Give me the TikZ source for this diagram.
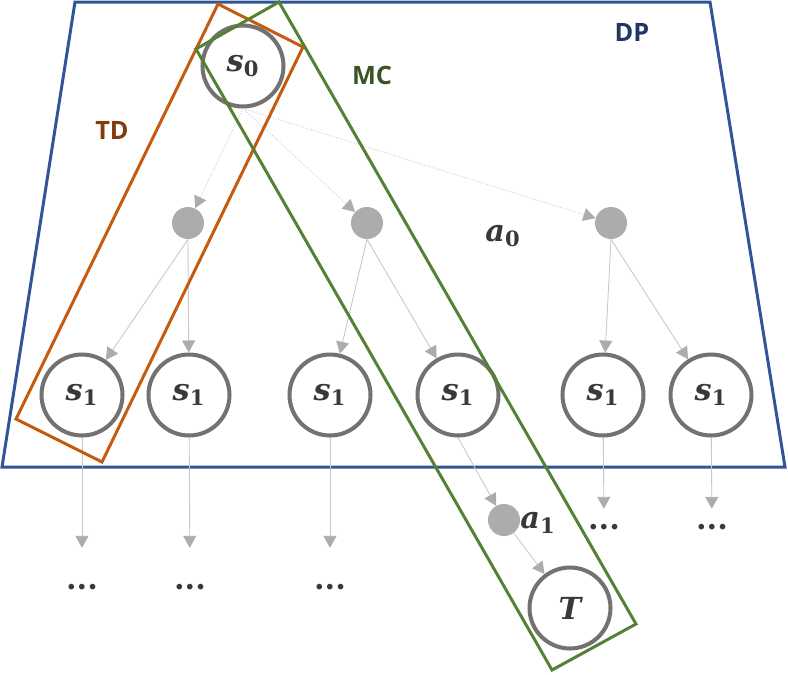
\documentclass[tikz,border=0pt]{standalone}
\usepackage{amsmath}
\usepackage{fontspec}
\newfontfamily\labelfont{Open Sans}
\newfontfamily\symfont{DejaVu Serif}
\usetikzlibrary{arrows.meta,positioning}
\definecolor{stateGray}{HTML}{767171}
\definecolor{actGray}{HTML}{AEABAB}
\definecolor{edgeGray}{HTML}{C8C8C8}
\definecolor{mathText}{HTML}{3B3838}
\definecolor{dpBlue}{HTML}{2F5597}
\definecolor{tdOrange}{HTML}{C55A11}
\definecolor{mcGreen}{HTML}{548235}
\definecolor{dpText}{HTML}{203864}
\definecolor{tdText}{HTML}{843C0C}
\definecolor{mcText}{HTML}{375623}
\newcommand{\stname}[2]{$\text{\symfont\bfseries\itshape #1}_{\text{\symfont\bfseries #2}}$}

\begin{document}
\begin{tikzpicture}[
  x=0.02cm,y=-0.02cm,
  state/.style={circle,draw=stateGray,line width=2.3pt,minimum size=1.62cm,
    inner sep=0pt,text=mathText,font=\LARGE},
  act/.style={circle,fill=actGray,minimum size=0.64cm,inner sep=0pt},
  flow/.style={-{Triangle[length=2.4mm,width=2.6mm,color=actGray]},
    draw=edgeGray,line width=0.5pt},
  more/.style={text=mathText,font=\symfont\bfseries\LARGE,inner sep=0pt},
  region/.style={line width=1.7pt,line join=miter},
  tag/.style={font=\labelfont\bfseries\Large}
]
  \useasboundingbox (0,0) rectangle (788,674);

  \draw[region,draw=dpBlue] (75,2) -- (710,2) -- (785,467) -- (2,467) -- cycle;
  \node[tag,text=dpText] (dp) at (632,32) {DP};
  \node[tag,text=tdText] (td) at (112,130) {TD};
  \node[tag,text=mcText] (mc) at (372,75) {MC};

  \node[state] (s0) at (243,66) {\stname{s}{0}};
  \node[act] (aL) at (188,223) {};
  \node[act] (aM) at (367,223) {};
  \node[act] (aR) at (611,223) {};
  \node[text=mathText,font=\LARGE] (a0) at (503,236) {\stname{a}{0}};

  \node[state] (s1a) at (82,395) {\stname{s}{1}};
  \node[state] (s1b) at (189,395) {\stname{s}{1}};
  \node[state] (s1c) at (330,395) {\stname{s}{1}};
  \node[state] (s1d) at (458,395) {\stname{s}{1}};
  \node[state] (s1e) at (603,395) {\stname{s}{1}};
  \node[state] (s1f) at (711,395) {\stname{s}{1}};

  \draw[flow,densely dotted] (s0.south) -- (aL);
  \draw[flow,densely dotted] (s0.south) -- (aM);
  \draw[flow,densely dotted] (s0.south) -- (aR);
  \draw[flow] (aL.south) -- (s1a);
  \draw[flow] (aL.south) -- (s1b);
  \draw[flow] (aM.south) -- (s1c);
  \draw[flow] (aM.south) -- (s1d);
  \draw[flow] (aR.south) -- (s1e);
  \draw[flow] (aR.south) -- (s1f);

  \node[more] (moreA) at (82,587) {...};
  \node[more] (moreB) at (190,587) {...};
  \node[more] (moreC) at (330,587) {...};
  \node[more] (moreE) at (604,527) {...};
  \node[more] (moreF) at (712,527) {...};
  \draw[flow,shorten >=0.72cm] (s1a) -- (moreA);
  \draw[flow,shorten >=0.72cm] (s1b) -- (moreB);
  \draw[flow,shorten >=0.72cm] (s1c) -- (moreC);
  \draw[flow,shorten >=0.3cm] (s1e) -- (moreE);
  \draw[flow,shorten >=0.3cm] (s1f) -- (moreF);

  \node[act] (a1) at (504,520) {};
  \node[text=mathText,font=\LARGE] (a1l) at (538,523) {\stname{a}{1}};
  \node[state,font=\LARGE\symfont\bfseries\itshape] (term) at (570,608) {T};
  \draw[flow] (s1d.south) -- (a1);
  \draw[flow] (a1) -- (term);

  \draw[region,draw=tdOrange] (218,4) -- (303,47) -- (102,462) -- (16,419) -- cycle;
  \draw[region,draw=mcGreen] (279,2) -- (196,49) -- (552,670) -- (636,624) -- cycle;
\end{tikzpicture}
\end{document}
